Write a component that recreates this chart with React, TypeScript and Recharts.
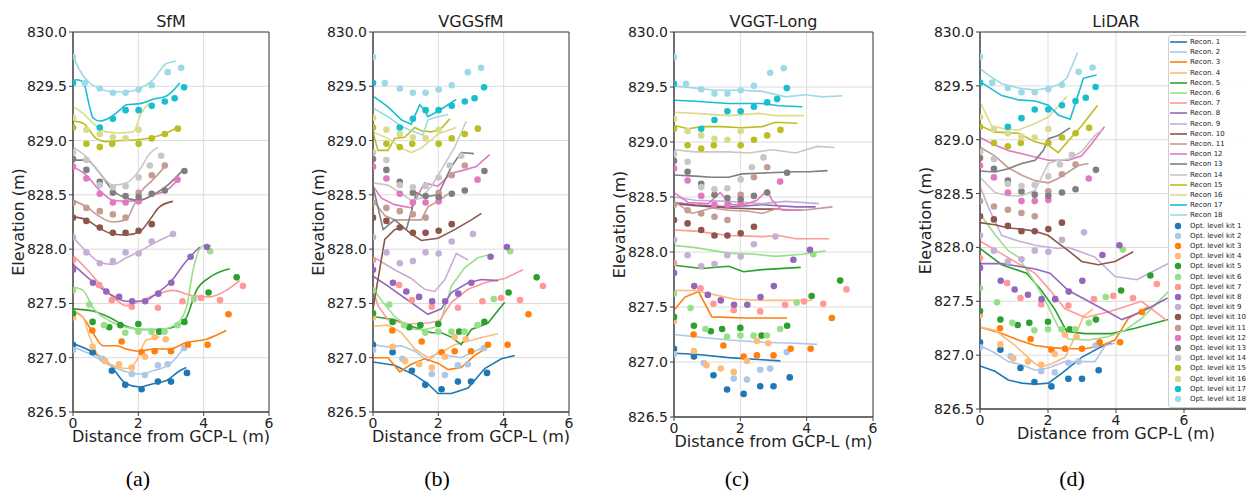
import { ComposedChart, Line, Scatter, XAxis, YAxis, CartesianGrid, ReferenceArea } from 'recharts';

type P = [number, number];

const COLORS = [
  '#1f77b4', '#aec7e8', '#ff7f0e', '#ffbb78', '#2ca02c', '#98df8a', '#ff9896', '#9467bd', '#c5b0d5',
  '#8c564b', '#c49c94', '#e377c2', '#7f7f7f', '#c7c7c7', '#bcbd22', '#dbdb8d', '#17becf', '#9edae5',
];
const RECON_LABELS = [
  'Recon. 1', 'Recon. 2', 'Recon. 3', 'Recon. 4', 'Recon. 5', 'Recon. 6', 'Recon. 7', 'Recon. 8', 'Recon. 9',
  'Recon. 10', 'Recon. 11', 'Recon 12', 'Recon 13', 'Recon 14', 'Recon 15', 'Recon 16', 'Recon 17', 'Recon 18',
];
const KIT_LABELS = Array.from({ length: 18 }, (_, i) => `Opt. level kit ${i + 1}`);
const X_TICKS = [0, 2, 4, 6];
const Y_TICKS = [826.5, 827, 827.5, 828, 828.5, 829, 829.5, 830];
const TITLES = ['SfM', 'VGGSfM', 'VGGT-Long', 'LiDAR'];
const TAGS = ['(a)', '(b)', '(c)', '(d)'];

// optical levelling kits (same in every panel)
const kits: P[][] = [
  [[0, 827.12], [0.6, 827.05], [1.19, 826.88], [1.6, 826.75], [2.1, 826.71], [2.6, 826.78], [3.0, 826.78], [3.49, 826.86]],
  [[0, 827.07], [0.9, 826.99], [1.8, 826.85], [2.2, 826.84], [2.6, 826.93], [2.9, 826.94], [3.4, 827.09]],
  [[0.59, 827.25], [1.49, 827.15], [2.1, 827.05], [2.5, 827.06], [3.0, 827.06], [3.52, 827.12], [4.12, 827.12], [4.76, 827.4]],
  [[0, 827.37], [0.6, 827.1], [0.98, 826.97], [1.41, 826.94], [1.8, 826.91], [2.2, 827.01], [2.5, 827.19], [2.84, 827.17]],
  [[0, 827.41], [0.6, 827.33], [1.11, 827.28], [1.45, 827.3], [2.0, 827.31], [2.64, 827.24], [3.41, 827.33], [4.15, 827.6], [5.01, 827.74]],
  [[0, 827.62], [0.5, 827.49], [0.95, 827.3], [1.6, 827.23], [2.0, 827.24], [2.4, 827.24], [2.8, 827.24], [3.2, 827.3], [3.7, 827.54], [4.2, 827.98]],
  [[0, 827.9], [0.8, 827.67], [1.19, 827.53], [1.8, 827.47], [2.6, 827.46], [3.35, 827.52], [3.92, 827.55], [4.5, 827.53], [5.2, 827.66]],
  [[0, 827.81], [0.61, 827.69], [1.02, 827.61], [1.41, 827.56], [1.81, 827.52], [2.21, 827.52], [2.61, 827.59], [3.01, 827.69], [3.6, 827.93], [4.1, 828.02]],
  [[0, 828.11], [0.41, 827.97], [0.82, 827.87], [1.22, 827.89], [1.61, 827.97], [2.01, 827.96], [2.41, 828.07], [3.06, 828.14]],
  [[0, 828.29], [0.41, 828.26], [0.82, 828.2], [1.22, 828.15], [1.61, 828.15], [2.01, 828.17], [2.41, 828.23]],
  [[0, 828.43], [0.41, 828.38], [0.82, 828.35], [1.22, 828.32], [1.61, 828.29], [2.01, 828.52], [2.41, 828.68], [2.81, 828.77]],
  [[0, 828.76], [0.41, 828.65], [0.82, 828.51], [1.22, 828.43], [1.61, 828.43], [2.01, 828.44], [3.2, 828.64]],
  [[0, 828.83], [0.41, 828.73], [0.82, 828.62], [1.22, 828.52], [1.61, 828.49], [2.01, 828.48], [2.41, 828.51], [2.81, 828.54], [3.41, 828.72]],
  [[0, 828.89], [0.41, 828.82], [0.82, 828.59], [1.22, 828.57], [1.61, 828.58], [2.01, 828.66], [2.35, 828.77], [2.7, 828.86]],
  [[0, 829.12], [0.41, 828.97], [0.82, 828.94], [1.2, 828.97], [2.01, 828.97], [2.41, 829.02], [2.81, 829.06], [3.21, 829.11]],
  [[0, 829.21], [0.41, 829.1], [0.82, 829.06], [1.22, 829.03], [1.61, 829.02], [2.01, 829.1]],
  [[0, 829.53], [0.82, 829.12], [1.22, 829.2], [1.61, 829.28], [2.01, 829.28], [2.41, 829.32], [2.81, 829.36], [3.11, 829.39], [3.4, 829.49]],
  [[0, 829.77], [0.36, 829.53], [0.82, 829.48], [1.22, 829.44], [1.61, 829.44], [2.01, 829.47], [2.41, 829.51], [2.9, 829.63], [3.31, 829.67]],
];

const sfm: P[][] = [
  [[0, 827.13], [0.61, 827.05], [1.12, 826.94], [1.63, 826.76], [2.04, 826.73], [2.45, 826.76], [2.86, 826.79], [3.27, 826.88], [3.47, 826.91]],
  [[0, 827.1], [0.61, 827.02], [1.12, 826.93], [1.63, 826.87], [2.04, 826.85], [2.45, 826.88], [2.96, 826.94], [3.37, 827.08]],
  [[0, 827.43], [0.31, 827.37], [0.61, 827.23], [0.92, 827.11], [1.33, 827.11], [1.63, 827.08], [2.04, 827.06], [2.45, 827.08], [2.96, 827.08], [3.47, 827.14], [4.08, 827.17], [4.69, 827.25]],
  [[0, 827.43], [0.31, 827.37], [0.51, 827.19], [0.82, 827.0], [1.22, 826.93], [1.63, 826.9], [1.94, 826.97], [2.24, 827.16], [2.65, 827.19]],
  [[0, 827.45], [0.61, 827.43], [1.12, 827.37], [1.63, 827.29], [2.14, 827.26], [2.65, 827.26], [3.16, 827.29], [3.47, 827.37], [3.78, 827.62], [4.18, 827.74], [4.8, 827.82]],
  [[0, 827.65], [0.31, 827.62], [0.61, 827.46], [1.12, 827.34], [1.63, 827.28], [2.14, 827.26], [2.65, 827.26], [3.16, 827.31], [3.47, 827.46], [3.67, 827.8], [3.98, 828.03], [4.23, 828.03]],
  [[0, 827.94], [0.41, 827.82], [0.82, 827.68], [1.22, 827.56], [1.63, 827.48], [2.04, 827.52], [2.45, 827.57], [3.06, 827.62], [3.67, 827.57], [4.18, 827.56], [4.69, 827.62], [5.1, 827.71]],
  [[0, 827.86], [0.41, 827.75], [0.82, 827.65], [1.22, 827.57], [1.63, 827.52], [2.14, 827.52], [2.55, 827.59], [2.96, 827.69], [3.47, 827.89], [3.88, 828.02]],
  [[0, 828.11], [0.41, 827.98], [0.82, 827.88], [1.22, 827.86], [1.63, 827.92], [2.04, 827.98], [2.45, 828.05], [3.06, 828.14]],
  [[0, 828.3], [0.41, 828.27], [0.82, 828.19], [1.22, 828.14], [1.63, 828.13], [2.04, 828.16], [2.35, 828.27], [2.65, 828.39], [3.06, 828.44]],
  [[0, 828.45], [0.41, 828.39], [0.82, 828.3], [1.22, 828.25], [1.63, 828.27], [1.84, 828.39], [2.04, 828.51], [2.45, 828.64], [2.81, 828.76]],
  [[0, 828.76], [0.41, 828.68], [0.82, 828.54], [1.22, 828.45], [1.63, 828.44], [2.04, 828.45], [2.45, 828.5], [2.86, 828.54], [3.21, 828.64]],
  [[0, 828.82], [0.41, 828.82], [0.82, 828.7], [1.22, 828.54], [1.63, 828.47], [2.04, 828.45], [2.45, 828.5], [2.86, 828.58], [3.37, 828.73]],
  [[0, 828.94], [0.41, 828.85], [0.82, 828.7], [1.22, 828.59], [1.63, 828.61], [2.04, 828.73], [2.35, 828.88], [2.6, 828.94]],
  [[0, 829.18], [0.31, 829.16], [0.71, 829.02], [1.02, 828.99], [1.43, 829.0], [2.04, 829.01], [2.45, 829.03], [2.86, 829.07], [3.21, 829.12]],
  [[0, 829.31], [0.31, 829.25], [0.61, 829.16], [1.02, 829.08], [1.43, 829.07], [1.84, 829.08], [2.09, 829.25], [2.3, 829.34]],
  [[0, 829.55], [0.1, 829.56], [0.31, 829.54], [0.51, 829.31], [0.61, 829.21], [0.82, 829.18], [1.12, 829.21], [1.43, 829.28], [1.63, 829.33], [2.04, 829.34], [2.45, 829.38], [2.86, 829.41], [3.27, 829.53]],
  [[0, 829.78], [0.2, 829.65], [0.51, 829.53], [0.82, 829.48], [1.22, 829.45], [1.63, 829.45], [2.04, 829.48], [2.45, 829.56], [2.86, 829.71], [3.16, 829.73]],
];

const vggsfm: P[][] = [
  [[0, 826.96], [0.66, 826.93], [1.28, 826.84], [1.68, 826.76], [1.99, 826.67], [2.4, 826.67], [2.91, 826.72], [3.42, 826.9], [3.93, 826.99], [4.34, 827.02]],
  [[0, 827.12], [0.46, 827.1], [0.87, 827.11], [1.28, 827.06], [1.68, 826.97], [1.99, 827.05], [2.3, 827.02], [2.7, 827.0], [3.11, 827.06], [3.52, 827.11]],
  [[0, 827.0], [0.46, 827.0], [0.82, 826.87], [1.17, 826.94], [1.58, 826.99], [1.99, 826.95], [2.3, 826.89], [2.7, 826.91], [3.11, 827.02], [3.42, 827.08]],
  [[0, 827.29], [0.46, 827.3], [0.87, 827.23], [1.28, 827.08], [1.68, 827.0], [2.09, 827.05], [2.5, 827.12], [3.01, 827.16], [3.52, 827.2], [3.83, 827.22]],
  [[0, 827.38], [0.66, 827.35], [1.17, 827.29], [1.79, 827.23], [2.09, 827.23], [2.4, 827.19], [2.7, 827.12], [3.01, 827.26], [3.52, 827.32], [4.03, 827.51]],
  [[0, 827.63], [0.36, 827.49], [0.66, 827.38], [0.97, 827.31], [1.28, 827.26], [1.58, 827.26], [1.89, 827.28], [2.09, 827.35], [2.4, 827.66], [2.81, 827.83], [3.21, 827.92], [3.57, 827.95]],
  [[0, 827.63], [0.15, 827.48], [0.46, 827.35], [1.07, 827.31], [1.68, 827.32], [2.04, 827.34], [2.4, 827.51], [2.91, 827.63], [3.42, 827.69], [4.03, 827.73], [4.59, 827.81]],
  [[0, 827.75], [0.46, 827.66], [0.97, 827.55], [1.68, 827.4], [2.09, 827.45], [2.4, 827.6], [2.91, 827.69], [3.32, 827.72], [3.83, 827.71]],
  [[0, 827.93], [0.66, 827.81], [1.17, 827.73], [1.58, 827.63], [1.89, 827.61], [2.2, 827.72], [2.55, 827.96], [2.91, 827.9]],
  [[0, 827.45], [0.36, 828.09], [0.66, 828.18], [0.92, 828.2], [1.17, 828.14], [1.48, 828.08], [1.99, 828.1], [2.5, 828.18], [3.01, 828.27], [3.32, 828.33]],
  [[0, 828.45], [0.36, 828.31], [0.66, 828.27], [1.17, 828.27], [1.48, 828.27], [1.68, 828.39], [1.99, 828.44], [2.3, 828.51]],
  [[0, 828.58], [0.26, 828.47], [0.66, 828.41], [1.17, 828.38], [1.58, 828.61], [1.99, 828.58], [2.4, 828.7], [2.81, 828.73], [3.16, 828.76], [3.57, 828.87]],
  [[0, 828.58], [0.31, 828.18], [0.66, 828.27], [1.02, 828.18], [1.33, 828.52], [1.58, 828.48], [1.99, 828.5], [2.4, 828.76], [2.7, 828.89], [3.09, 828.88]],
  [[0, 828.61], [0.46, 828.59], [0.87, 828.51], [1.17, 828.45], [1.48, 828.47], [1.79, 828.58], [2.09, 828.73], [2.5, 828.94], [2.86, 829.18]],
  [[0, 829.08], [0.15, 828.91], [0.46, 828.91], [0.66, 829.02], [0.97, 829.03], [1.28, 829.12], [1.48, 829.09], [1.79, 829.08], [2.09, 829.11], [2.35, 829.2]],
  [[0, 829.08], [0.46, 829.02], [0.87, 828.93], [1.17, 828.89], [1.48, 828.93], [1.99, 829.06], [2.55, 829.12]],
  [[0, 829.41], [0.46, 829.31], [0.87, 829.19], [1.17, 829.15], [1.43, 829.33], [1.58, 829.28], [1.68, 829.22], [1.99, 829.27], [2.3, 829.33], [2.55, 829.38]],
  [[0, 829.3], [0.46, 829.22], [0.87, 829.13], [1.28, 829.08], [1.53, 829.05], [1.68, 829.19], [1.99, 829.22], [2.3, 829.24]],
];

const vggtLong: P[][] = [
  [[0, 827.08], [0.64, 827.07], [1.65, 827.04], [2.66, 827.02], [3.21, 827.01]],
  [[0, 827.25], [0.64, 827.23], [1.65, 827.2], [2.66, 827.18], [3.67, 827.17], [4.32, 827.16]],
  [[0, 827.47], [0.33, 827.59], [0.74, 827.64], [1.14, 827.41], [2.15, 827.4], [2.66, 827.4], [3.41, 827.4]],
  [[0, 827.65], [0.64, 827.65], [1.24, 827.61], [1.85, 827.57], [2.66, 827.56], [4.17, 827.56]],
  [[0, 827.88], [0.84, 827.85], [1.65, 827.87], [2.1, 827.82], [2.66, 827.84], [3.82, 827.86]],
  [[0, 828.06], [0.64, 828.04], [1.65, 827.99], [2.45, 827.98], [3.06, 827.96], [3.87, 827.98], [4.57, 828.01]],
  [[0, 828.2], [0.64, 828.19], [1.65, 828.15], [2.66, 828.14], [3.16, 828.15], [3.67, 828.12], [4.68, 828.12]],
  [[0, 828.45], [0.64, 828.43], [1.65, 828.41], [2.66, 828.43], [3.67, 828.41], [4.27, 828.41]],
  [[0, 828.5], [0.64, 828.47], [1.65, 828.46], [2.15, 828.45], [2.66, 828.44], [3.36, 828.46], [4.37, 828.44]],
  [[0, 828.44], [0.64, 828.42], [1.65, 828.4], [2.66, 828.39], [3.16, 828.39]],
  [[0, 828.46], [0.54, 828.35], [1.14, 828.4], [1.65, 828.38], [2.25, 828.37], [2.66, 828.35], [3.06, 828.39], [3.87, 828.38], [4.78, 828.41]],
  [[0, 828.54], [0.43, 828.45], [1.04, 828.44], [1.39, 828.54], [1.75, 828.43], [2.1, 828.43], [2.5, 828.47], [2.81, 828.56], [2.96, 828.47], [3.26, 828.38], [3.87, 828.38]],
  [[0, 828.7], [0.64, 828.69], [1.14, 828.68], [1.65, 828.68], [2.05, 828.71], [2.86, 828.72], [3.67, 828.73], [4.07, 828.73], [4.63, 828.74]],
  [[0, 828.93], [0.64, 828.91], [1.65, 828.91], [2.25, 828.9], [2.96, 828.93], [3.67, 828.9], [4.32, 828.96], [4.83, 828.95]],
  [[0, 829.15], [0.43, 829.12], [0.84, 829.14], [1.44, 829.14], [2.05, 829.13], [2.66, 829.14], [3.06, 829.18], [3.72, 829.17]],
  [[0, 829.27], [0.64, 829.26], [1.65, 829.24], [2.56, 829.26], [3.06, 829.24], [3.92, 829.24]],
  [[0, 829.38], [0.64, 829.37], [1.65, 829.35], [2.66, 829.35], [3.16, 829.33], [3.87, 829.32]],
  [[0, 829.51], [0.64, 829.49], [1.24, 829.47], [2.0, 829.47], [2.66, 829.46], [3.36, 829.41], [3.97, 829.43], [4.47, 829.41], [5.08, 829.42]],
];

const lidar: P[][] = [
  [[0, 826.9], [0.44, 826.85], [0.83, 826.77], [1.23, 826.74], [1.62, 826.73], [2.01, 826.74], [2.4, 826.83], [2.99, 826.98], [3.58, 827.08], [3.87, 827.11]],
  [[0, 827.09], [0.44, 827.02], [0.83, 826.94], [1.23, 826.91], [1.62, 826.86], [2.01, 826.88], [2.5, 826.94], [2.99, 826.94], [3.38, 826.94], [3.68, 827.09], [3.97, 827.11]],
  [[0, 827.26], [0.64, 827.2], [1.13, 827.14], [1.62, 827.09], [2.11, 827.07], [2.6, 827.06], [3.09, 827.06], [3.58, 827.09], [3.97, 827.14], [4.36, 827.34], [4.95, 827.45]],
  [[0, 827.26], [0.44, 827.23], [1.03, 827.09], [1.62, 826.92], [1.81, 826.89], [2.11, 826.92], [2.5, 826.98], [2.79, 827.17], [3.04, 827.36], [3.33, 827.43]],
  [[0, 827.99], [0.64, 827.84], [1.37, 827.76], [1.81, 827.6], [2.21, 827.42], [2.55, 827.22], [3.09, 827.2], [3.87, 827.2], [4.56, 827.25], [5.54, 827.33]],
  [[0, 828.31], [0.44, 828.12], [0.83, 827.97], [1.13, 827.91], [1.62, 827.67], [2.01, 827.45], [2.3, 827.26], [2.6, 827.15], [3.19, 827.14], [3.77, 827.17], [4.26, 827.23], [4.75, 827.34], [5.54, 827.59]],
  [[0, 828.06], [0.64, 827.94], [1.13, 827.85], [1.62, 827.76], [2.01, 827.62], [2.5, 827.43], [3.09, 827.35], [3.77, 827.4], [4.75, 827.5], [5.5, 827.32]],
  [[0, 827.85], [0.64, 827.85], [1.62, 827.8], [2.06, 827.76], [2.6, 827.6], [3.19, 827.5], [3.77, 827.4], [4.17, 827.33], [4.75, 827.4], [5.52, 827.53]],
  [[0, 828.57], [0.25, 828.37], [0.64, 828.11], [1.13, 828.06], [1.62, 828.02], [2.3, 827.99], [2.6, 828.0], [3.38, 827.91], [3.97, 827.73], [4.61, 827.7], [5.54, 827.85]],
  [[0, 828.23], [0.44, 828.21], [0.83, 828.18], [1.23, 828.17], [1.62, 828.15], [2.01, 828.11], [2.3, 828.04], [2.6, 827.97], [2.99, 827.87], [3.48, 827.84], [3.97, 827.87], [4.51, 827.96]],
  [[0, 828.93], [0.44, 828.85], [0.83, 828.74], [1.23, 828.67], [1.62, 828.62], [2.01, 828.6], [2.3, 828.64], [2.6, 828.7], [2.89, 828.76], [3.19, 828.78]],
  [[0, 829.02], [0.44, 828.95], [0.83, 828.9], [1.23, 828.87], [1.62, 828.84], [2.01, 828.81], [2.3, 828.81], [2.6, 828.81], [2.99, 828.85], [3.28, 828.96], [3.66, 829.12]],
  [[0, 828.71], [0.44, 828.7], [0.83, 828.73], [1.23, 828.78], [1.62, 828.81], [1.86, 828.9], [2.01, 829.01], [2.3, 829.04], [2.65, 829.11]],
  [[0, 828.65], [0.44, 828.51], [0.83, 828.48], [1.23, 828.48], [1.62, 828.53], [2.01, 828.78], [2.3, 828.81], [2.6, 828.82], [2.99, 828.89], [3.38, 829.04], [3.58, 829.09]],
  [[0, 829.13], [0.44, 829.07], [1.13, 829.06], [1.62, 828.98], [2.01, 828.95], [2.3, 828.88], [2.6, 828.99], [2.99, 829.13], [3.46, 829.32]],
  [[0, 829.35], [0.34, 829.13], [0.74, 829.1], [1.13, 829.09], [1.62, 829.15], [2.01, 829.21], [2.3, 829.31], [2.55, 829.4]],
  [[0, 829.54], [0.64, 829.41], [1.13, 829.37], [1.62, 829.36], [2.01, 829.32], [2.3, 829.23], [2.65, 829.19], [2.84, 829.37], [3.04, 829.57], [3.43, 829.6]],
  [[0, 829.66], [0.25, 829.6], [0.64, 829.52], [1.13, 829.48], [1.62, 829.46], [2.01, 829.48], [2.3, 829.51], [2.55, 829.57], [2.7, 829.68], [2.87, 829.81]],
];

const toPts = (a: P[]) => a.map(([x, y]) => ({ x, y }));
const FONT = '"DejaVu Sans", sans-serif';

interface Box { l: number; r: number; b: number; xMax: number; tagX: number }

const BOXES: Box[] = [
  { l: 73, r: 269, b: 412, xMax: 6, tagX: 138 },
  { l: 373, r: 569, b: 412, xMax: 6, tagX: 437 },
  { l: 674, r: 873, b: 417, xMax: 6, tagX: 737 },
  { l: 980, r: 1252, b: 409, xMax: 8, tagX: 1072 },
];

function Panel({ lines, curve, box, idx }: { lines: P[][]; curve: 'monotone' | 'linear'; box: Box; idx: number }) {
  const yw = 73;
  const w = box.r - box.l + yw + 10;
  const h = box.b + 30 + 10;
  return (
    <>
      <div style={{ position: 'absolute', left: box.l - yw, top: 0 }}>
        <ComposedChart width={w} height={h} margin={{ top: 32, right: 10, bottom: 10, left: 0 }}>
          <CartesianGrid stroke="#dcdcdc" />
          <XAxis
            type="number" dataKey="x" domain={[0, box.xMax]} ticks={X_TICKS} allowDataOverflow
            height={30} tickSize={4} tickMargin={2} stroke="#444" tick={{ fill: '#222', fontSize: 14 }}
          />
          <YAxis
            type="number" dataKey="y" domain={[826.5, 830]} ticks={Y_TICKS} allowDataOverflow
            width={yw} tickSize={4} tickMargin={2} stroke="#444" tick={{ fill: '#222', fontSize: 14 }}
            tickFormatter={(v: number) => v.toFixed(1)}
            label={{ value: 'Elevation (m)', angle: -90, position: 'insideLeft', offset: 18, fill: '#222', fontSize: 16, style: { textAnchor: 'middle' } }}
          />
          {lines.map((pts, i) => (
            <Line key={'l' + i} data={toPts(pts)} dataKey="y" type={curve} stroke={COLORS[i]} strokeWidth={1.6} dot={false} isAnimationActive={false} />
          ))}
          {kits.map((pts, i) => (
            <Scatter
              key={'s' + i} data={toPts(pts)} dataKey="y" fill={COLORS[i]} isAnimationActive={false}
              shape={(p: any) => <circle cx={p.cx} cy={p.cy} r={3.3} fill={COLORS[i]} />}
            />
          ))}
          <ReferenceArea x1={0} x2={box.xMax} y1={826.5} y2={830} fill="none" stroke="#444" strokeWidth={1} />
        </ComposedChart>
      </div>
      <div style={{ position: 'absolute', left: box.l, width: box.r - box.l, top: 14, lineHeight: '16px', fontSize: 16, textAlign: 'center', color: '#222' }}>
        {TITLES[idx]}
      </div>
      <div style={{ position: 'absolute', left: box.l - 20, width: box.r - box.l + 40, top: box.b + 16.5, lineHeight: '16px', fontSize: 16, textAlign: 'center', color: '#222', whiteSpace: 'nowrap' }}>
        Distance from GCP-L (m)
      </div>
      <div style={{ position: 'absolute', left: box.tagX - 40, width: 80, top: 466, lineHeight: '26px', fontSize: 22, textAlign: 'center', fontFamily: '"Liberation Serif", serif', color: '#000' }}>
        {TAGS[idx]}
      </div>
    </>
  );
}

function LegendBox() {
  const row = 10.2;
  return (
    <div style={{ position: 'absolute', left: 1168, top: 35, width: 110, height: 36 * row + 4, border: '1px solid #d0d0d0', borderRadius: 3, background: 'rgba(255,255,255,0.85)', fontSize: 7, color: '#222' }}>
      {RECON_LABELS.concat(KIT_LABELS).map((lab, k) => {
        const i = k % 18;
        const isLine = k < 18;
        return (
          <div key={k} style={{ position: 'absolute', left: 0, top: 1 + k * row, height: row, width: 110, display: 'flex', alignItems: 'center' }}>
            <svg width={20} height={10} style={{ flex: 'none' }}>
              {isLine ? <line x1={1} x2={18} y1={5} y2={5} stroke={COLORS[i]} strokeWidth={1.6} /> : <circle cx={9} cy={5} r={3.2} fill={COLORS[i]} />}
            </svg>
            <span style={{ marginLeft: 1, lineHeight: '10px' }}>{lab}</span>
          </div>
        );
      })}
    </div>
  );
}

export default function App() {
  const panels = [sfm, vggsfm, vggtLong, lidar];
  return (
    <div style={{ position: 'absolute', left: 0, top: 0, width: 1246, height: 492, overflow: 'hidden', background: '#fff', fontFamily: FONT }}>
      {panels.map((lines, i) => (
        <Panel key={i} lines={lines} curve={i === 0 ? 'monotone' : 'linear'} box={BOXES[i]} idx={i} />
      ))}
      <LegendBox />
    </div>
  );
}
